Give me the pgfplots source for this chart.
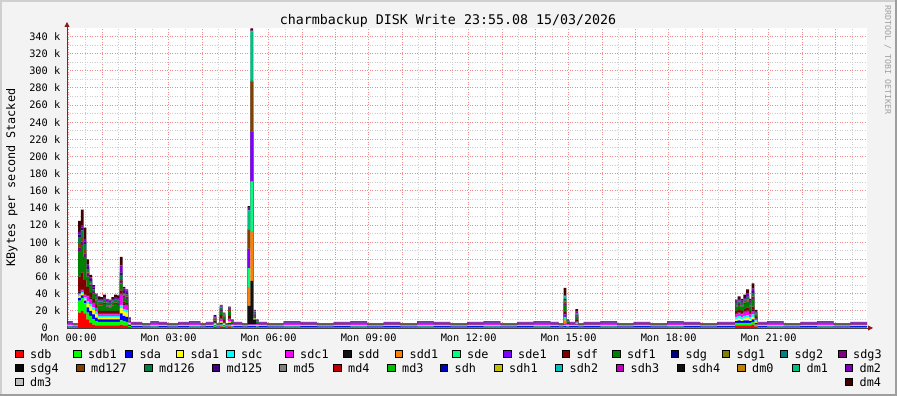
\documentclass[border=0pt]{standalone}
\usepackage{pgfplots}
\pgfplotsset{compat=1.18}
\usepackage{pgfplotstable}
\usepackage{fontspec}
\setmainfont{DejaVu Sans Mono}
\usetikzlibrary{arrows.meta}

\newcommand\axfont{\fontsize{10.3}{12}\selectfont}
\newcommand\legfont{\fontsize{11.8}{14}\selectfont}
\newcommand\titfont{\fontsize{13.3}{16}\selectfont}
\newcommand\wmfont{\fontsize{8.3}{10}\selectfont}

\definecolor{bgc}{HTML}{F3F3F3}
\definecolor{shadeA}{HTML}{CFCFCF}
\definecolor{shadeB}{HTML}{9E9E9E}
\definecolor{mgridc}{HTML}{F08C8C}
\definecolor{gridc}{HTML}{CDCDCD}
\definecolor{axisc}{HTML}{404040}
\definecolor{arrowc}{HTML}{8B1A1A}
\definecolor{wmc}{HTML}{A0A0A0}

\definecolor{csdb}{HTML}{FF0000}
\definecolor{csdb1}{HTML}{00FF00}
\definecolor{csda}{HTML}{0000FF}
\definecolor{csda1}{HTML}{FFFF00}
\definecolor{csdc}{HTML}{00FFFF}
\definecolor{csdc1}{HTML}{FF00FF}
\definecolor{csdd}{HTML}{111111}
\definecolor{csdd1}{HTML}{FF8000}
\definecolor{csde}{HTML}{00FF80}
\definecolor{csde1}{HTML}{8000FF}
\definecolor{csdf}{HTML}{800000}
\definecolor{csdf1}{HTML}{008000}
\definecolor{csdg}{HTML}{000080}
\definecolor{csdg1}{HTML}{808000}
\definecolor{csdg2}{HTML}{008080}
\definecolor{csdg3}{HTML}{800080}
\definecolor{csdg4}{HTML}{080808}
\definecolor{cmd127}{HTML}{804000}
\definecolor{cmd126}{HTML}{008040}
\definecolor{cmd125}{HTML}{400080}
\definecolor{cmd5}{HTML}{808080}
\definecolor{cmd4}{HTML}{C00000}
\definecolor{cmd3}{HTML}{00C000}
\definecolor{csdh}{HTML}{0000C0}
\definecolor{csdh1}{HTML}{C0C000}
\definecolor{csdh2}{HTML}{00C0C0}
\definecolor{csdh3}{HTML}{C000C0}
\definecolor{csdh4}{HTML}{101010}
\definecolor{cdm0}{HTML}{C08000}
\definecolor{cdm1}{HTML}{00C080}
\definecolor{cdm2}{HTML}{8000C0}
\definecolor{cdm3}{HTML}{C0C0C0}
\definecolor{cdm4}{HTML}{400000}

% KBytes/s (in thousands), time in hours
\pgfplotstableread{
t sdb sdb1 sda sda1 sdc sdc1 sdd sdd1 sde sde1 sdf sdf1 sdg3 md127 md126 md125 dm1 dm2 dm4
-0.050 0.8 0.7 1.0 0.4 0.7 0.8 0.2 0 0 0 0.2 0.3 0.2 0.2 0.3 0.4 0 1.2 0.6
0.117 0.6 0.5 0.8 0.3 0.5 0.6 0.2 0 0 0 0.1 0.2 0.2 0.1 0.2 0.3 0 0.8 0.4
0.283 18 14 3 2 2 2 1 0 0 0 18 30 4 4 8 3 0 3 13
0.367 20 15 3 2 2 2 1 0 0 0 20 32 4 5 8 3 0 3 18
0.450 17 12 3 2 2 2 1 0 0 0 17 27 4 4 7 3 0 3 13
0.533 10 8 6 4 3 6 1 0 0 0 10 12 3 2 4 2 0 3 6
0.617 6 8 6 5 3 6 1 0 0 0 6 8 2 1 3 2 0 2 3
0.700 4 6 6 5 3 5 1 0 0 0 4 6 2 1 2 2 0 2 1
0.783 3 5 4 4 3 4 1 0 0 0 3 5 1 1 2 1 0 2 1
0.867 3 4 3 2 2 2 1 0 0 0 3 6 1 1 3 1 0 2 3
0.950 3 4 3 2 2 2 1 0 0 0 3 6 1 1 3 1 0 2 2
1.033 3 4 3 2 2 2 1 0 0 0 3 8 1 1 3 1 0 2 3
1.117 3 4 3 2 2 2 1 0 0 0 3 5 1 1 3 1 0 2 1
1.200 3 4 3 2 2 2 1 0 0 0 3 4 1 1 3 1 0 2 1
1.283 3 4 3 2 2 2 1 0 0 0 3 6 1 1 3 1 0 2 2
1.367 3 4 3 2 2 2 1 0 0 0 3 8 1 1 3 1 0 2 3
1.450 3 4 3 2 2 2 1 0 0 0 3 7 1 1 3 1 0 2 3
1.533 4 5 8 6 4 12 1 0 0 0 4 8 3 2 5 3 0 8 10
1.617 3 5 6 5 3 5 1 0 0 0 3 5 2 1 2 2 0 3 2
1.700 3 4 6 5 3 5 1 0 0 0 2 5 2 1 2 2 0 3 1
1.783 1 1.5 1.5 1 1 1 0.5 0 0 0 0.5 0.5 0.5 0.5 0.5 0.5 0 1.5 0.5
1.867 0.7 0.6 0.9 0.4 0.6 0.7 0.2 0 0 0 0.2 0.3 0.2 0.2 0.2 0.4 0 1.0 0.4
2.200 0.6 0.5 0.8 0.3 0.5 0.6 0.2 0 0 0 0.1 0.2 0.2 0.1 0.2 0.3 0 0.8 0.4
2.450 0.8 0.7 1.0 0.4 0.7 0.8 0.2 0 0 0 0.2 0.3 0.2 0.2 0.3 0.4 0 1.2 0.6
2.700 0.7 0.6 0.9 0.4 0.6 0.7 0.2 0 0 0 0.2 0.3 0.2 0.2 0.2 0.4 0 1.0 0.4
2.950 0.6 0.5 0.8 0.3 0.5 0.6 0.2 0 0 0 0.1 0.2 0.2 0.1 0.2 0.3 0 0.8 0.4
3.283 0.7 0.6 0.9 0.4 0.6 0.7 0.2 0 0 0 0.2 0.3 0.2 0.2 0.2 0.4 0 1.0 0.4
3.617 0.8 0.7 1.0 0.4 0.7 0.8 0.2 0 0 0 0.2 0.3 0.2 0.2 0.3 0.4 0 1.2 0.6
3.950 0.6 0.5 0.8 0.3 0.5 0.6 0.2 0 0 0 0.1 0.2 0.2 0.1 0.2 0.3 0 0.8 0.4
4.117 0.7 0.6 0.9 0.4 0.6 0.7 0.2 0 0 0 0.2 0.3 0.2 0.2 0.2 0.4 0 1.0 0.4
4.350 1 1 1 1 1 1 0.5 0 0 0 2 2 0.5 0.5 1 0.5 0 1 1
4.433 0.6 0.5 0.8 0.3 0.5 0.6 0.2 0 0 0 0.1 0.2 0.2 0.1 0.2 0.3 0 0.8 0.4
4.533 2 2 2 1 1 2 1 0 0 0 4 5 1 1 2 1 0 1 1
4.617 1 1 1 1 1 1 0.5 0 0 0 3 4 0.5 0.5 1 0.5 0 1 1
4.700 0.6 0.5 0.8 0.3 0.5 0.6 0.2 0 0 0 0.1 0.2 0.2 0.1 0.2 0.3 0 0.8 0.4
4.783 2 2 2 1 1 2 1 0 0 0 3 5 1 1 1 1 0 1 1
4.867 0.8 0.7 1.0 0.5 0.7 0.8 0.3 0 0 0 1.0 1.5 0.3 0.3 0.5 0.4 0 1.0 0.2
4.950 0.7 0.6 0.9 0.4 0.6 0.7 0.2 0 0 0 0.2 0.3 0.2 0.2 0.2 0.4 0 1.0 0.4
5.200 0.6 0.5 0.8 0.3 0.5 0.6 0.2 0 0 0 0.1 0.2 0.2 0.1 0.2 0.3 0 0.8 0.4
5.367 0.7 0.6 0.9 0.4 0.6 0.7 22 22 22 22 0.2 0.3 0.2 22 0.2 0.4 22 4 1
5.450 0.7 0.6 0.9 0.4 0.6 0.7 51 58 58 58 0.2 0.3 0.2 58 0.2 0.4 58 0.8 2.5
5.533 0.7 0.6 0.9 0.4 0.6 0.7 6 1 1 1 0.5 2 0.5 1 1 0.5 1 1 0.6
5.617 0.8 0.7 1.0 0.5 0.7 0.8 0.3 0 0 0 1.0 1.5 0.3 0.3 0.5 0.4 0 1.0 0.2
5.700 0.7 0.6 0.9 0.4 0.6 0.7 0.2 0 0 0 0.2 0.3 0.2 0.2 0.2 0.4 0 1.0 0.4
5.950 0.6 0.5 0.8 0.3 0.5 0.6 0.2 0 0 0 0.1 0.2 0.2 0.1 0.2 0.3 0 0.8 0.4
6.450 0.8 0.7 1.0 0.4 0.7 0.8 0.2 0 0 0 0.2 0.3 0.2 0.2 0.3 0.4 0 1.2 0.6
6.950 0.7 0.6 0.9 0.4 0.6 0.7 0.2 0 0 0 0.2 0.3 0.2 0.2 0.2 0.4 0 1.0 0.4
7.450 0.6 0.5 0.8 0.3 0.5 0.6 0.2 0 0 0 0.1 0.2 0.2 0.1 0.2 0.3 0 0.8 0.4
7.950 0.7 0.6 0.9 0.4 0.6 0.7 0.2 0 0 0 0.2 0.3 0.2 0.2 0.2 0.4 0 1.0 0.4
8.450 0.8 0.7 1.0 0.4 0.7 0.8 0.2 0 0 0 0.2 0.3 0.2 0.2 0.3 0.4 0 1.2 0.6
8.950 0.6 0.5 0.8 0.3 0.5 0.6 0.2 0 0 0 0.1 0.2 0.2 0.1 0.2 0.3 0 0.8 0.4
9.450 0.7 0.6 0.9 0.4 0.6 0.7 0.2 0 0 0 0.2 0.3 0.2 0.2 0.2 0.4 0 1.0 0.4
9.950 0.6 0.5 0.8 0.3 0.5 0.6 0.2 0 0 0 0.1 0.2 0.2 0.1 0.2 0.3 0 0.8 0.4
10.450 0.8 0.7 1.0 0.4 0.7 0.8 0.2 0 0 0 0.2 0.3 0.2 0.2 0.3 0.4 0 1.2 0.6
10.950 0.7 0.6 0.9 0.4 0.6 0.7 0.2 0 0 0 0.2 0.3 0.2 0.2 0.2 0.4 0 1.0 0.4
11.450 0.6 0.5 0.8 0.3 0.5 0.6 0.2 0 0 0 0.1 0.2 0.2 0.1 0.2 0.3 0 0.8 0.4
11.950 0.7 0.6 0.9 0.4 0.6 0.7 0.2 0 0 0 0.2 0.3 0.2 0.2 0.2 0.4 0 1.0 0.4
12.450 0.8 0.7 1.0 0.4 0.7 0.8 0.2 0 0 0 0.2 0.3 0.2 0.2 0.3 0.4 0 1.2 0.6
12.950 0.6 0.5 0.8 0.3 0.5 0.6 0.2 0 0 0 0.1 0.2 0.2 0.1 0.2 0.3 0 0.8 0.4
13.450 0.7 0.6 0.9 0.4 0.6 0.7 0.2 0 0 0 0.2 0.3 0.2 0.2 0.2 0.4 0 1.0 0.4
13.950 0.8 0.7 1.0 0.4 0.7 0.8 0.2 0 0 0 0.2 0.3 0.2 0.2 0.3 0.4 0 1.2 0.6
14.450 0.7 0.6 0.9 0.4 0.6 0.7 0.2 0 0 0 0.2 0.3 0.2 0.2 0.2 0.4 0 1.0 0.4
14.700 0.6 0.5 0.8 0.3 0.5 0.6 0.2 0 0 0 0.1 0.2 0.2 0.1 0.2 0.3 0 0.8 0.4
14.850 0.7 0.6 0.9 0.4 0.6 0.7 1 4 4 3 3 8 1 3 2 1 3 1 9
14.933 0.8 0.7 1.0 0.5 0.7 0.8 0.3 0 0 0 1.0 1.5 0.3 0.3 0.5 0.4 0 1.0 0.2
15.017 0.7 0.6 0.9 0.4 0.6 0.7 0.2 0 0 0 0.2 0.3 0.2 0.2 0.2 0.4 0 1.0 0.4
15.200 0.7 0.6 0.9 0.4 0.6 0.7 0.5 1 1 1 2 4 0.5 1 1 0.5 1 1.6 3
15.283 0.6 0.5 0.8 0.3 0.5 0.6 0.2 0 0 0 0.1 0.2 0.2 0.1 0.2 0.3 0 0.8 0.4
15.450 0.7 0.6 0.9 0.4 0.6 0.7 0.2 0 0 0 0.2 0.3 0.2 0.2 0.2 0.4 0 1.0 0.4
15.950 0.8 0.7 1.0 0.4 0.7 0.8 0.2 0 0 0 0.2 0.3 0.2 0.2 0.3 0.4 0 1.2 0.6
16.450 0.6 0.5 0.8 0.3 0.5 0.6 0.2 0 0 0 0.1 0.2 0.2 0.1 0.2 0.3 0 0.8 0.4
16.950 0.7 0.6 0.9 0.4 0.6 0.7 0.2 0 0 0 0.2 0.3 0.2 0.2 0.2 0.4 0 1.0 0.4
17.450 0.6 0.5 0.8 0.3 0.5 0.6 0.2 0 0 0 0.1 0.2 0.2 0.1 0.2 0.3 0 0.8 0.4
17.950 0.8 0.7 1.0 0.4 0.7 0.8 0.2 0 0 0 0.2 0.3 0.2 0.2 0.3 0.4 0 1.2 0.6
18.450 0.7 0.6 0.9 0.4 0.6 0.7 0.2 0 0 0 0.2 0.3 0.2 0.2 0.2 0.4 0 1.0 0.4
18.950 0.6 0.5 0.8 0.3 0.5 0.6 0.2 0 0 0 0.1 0.2 0.2 0.1 0.2 0.3 0 0.8 0.4
19.450 0.7 0.6 0.9 0.4 0.6 0.7 0.2 0 0 0 0.2 0.3 0.2 0.2 0.2 0.4 0 1.0 0.4
19.990 3 3 2 2 3 3 1 0 0 0 3 5 1 1 2 1 0 2 1
20.070 3 3 3 2 3 3 1 0 0 0 3 6 1 1 2 1 0 2 3
20.160 3 3 2 2 3 3 1 0 0 0 3 5 1 1 2 1 0 2 2
20.240 3 3 3 2 3 4 1 0 0 0 3 6 1 1 2 1 0 2 4
20.320 3 3 3 3 3 4 1 0 0 0 4 7 1 1 3 1 0 3 5
20.410 3 3 2 2 3 3 1 0 0 0 3 5 1 1 2 1 0 2 2
20.490 4 3 3 3 3 4 1 0 0 0 4 9 2 1 4 2 0 3 6
20.570 2 2 2 1 2 2 0.5 0 0 0 1.5 3 0.5 0.5 1 0.5 0 1.5 1
20.660 0.7 0.6 0.9 0.4 0.6 0.7 0.2 0 0 0 0.2 0.3 0.2 0.2 0.2 0.4 0 1.0 0.4
20.950 0.8 0.7 1.0 0.4 0.7 0.8 0.2 0 0 0 0.2 0.3 0.2 0.2 0.3 0.4 0 1.2 0.6
21.450 0.6 0.5 0.8 0.3 0.5 0.6 0.2 0 0 0 0.1 0.2 0.2 0.1 0.2 0.3 0 0.8 0.4
21.950 0.7 0.6 0.9 0.4 0.6 0.7 0.2 0 0 0 0.2 0.3 0.2 0.2 0.2 0.4 0 1.0 0.4
22.450 0.8 0.7 1.0 0.4 0.7 0.8 0.2 0 0 0 0.2 0.3 0.2 0.2 0.3 0.4 0 1.2 0.6
22.950 0.6 0.5 0.8 0.3 0.5 0.6 0.2 0 0 0 0.1 0.2 0.2 0.1 0.2 0.3 0 0.8 0.4
23.450 0.7 0.6 0.9 0.4 0.6 0.7 0.2 0 0 0 0.2 0.3 0.2 0.2 0.2 0.4 0 1.0 0.4
23.950 0.7 0.6 0.9 0.4 0.6 0.7 0.2 0 0 0 0.2 0.3 0.2 0.2 0.2 0.4 0 1.0 0.4
}\disk

\begin{document}
\begin{tikzpicture}[x=1pt,y=1pt]
\fill[shadeB] (0,0) rectangle (897,396);
\fill[shadeA] (0,2) rectangle (895,396);
\fill[bgc] (2,2) rectangle (895,394);
\useasboundingbox (0,0) rectangle (897,396);

\begin{axis}[
  at={(67pt,68pt)}, anchor=south west,
  scale only axis, width=800pt, height=300pt,
  xmin=-0.05, xmax=23.95, ymin=0, ymax=350,
  axis x line=bottom, axis y line=left,
  axis line style={draw=axisc, line width=0.8pt, -{Triangle[length=5pt,width=5pt,color=arrowc]}, shorten >=-6pt},
  axis background/.style={fill=white},
  stack plots=y,
  xtick={0,...,23},
  xticklabels={Mon 00:00,,,Mon 03:00,,,Mon 06:00,,,Mon 09:00,,,Mon 12:00,,,Mon 15:00,,,Mon 18:00,,,Mon 21:00,,},
  minor xtick={0.5,1.5,...,23.5},
  ytick={0,20,...,340},
  yticklabels={0\hphantom{0k},20 k,40 k,60 k,80 k,100 k,120 k,140 k,160 k,180 k,200 k,220 k,240 k,260 k,280 k,300 k,320 k,340 k},
  minor ytick={10,30,...,330},
  grid=both,
  major grid style={draw=mgridc, dash pattern=on 1pt off 1.5pt, line width=1pt},
  minor grid style={draw=gridc, dash pattern=on 1pt off 1.5pt, line width=1pt},
  major tick length=0pt, minor tick length=0pt,
  xticklabel style={font=\axfont, anchor=north, inner sep=0pt, yshift=-6pt},
  yticklabel style={font=\axfont, anchor=east, inner sep=0pt, xshift=-6.5pt},
  every axis plot/.append style={const plot, draw=none},
]
\addplot[fill=csdb] table[x=t,y=sdb]{\disk} \closedcycle;
\addplot[fill=csdb1] table[x=t,y=sdb1]{\disk} \closedcycle;
\addplot[fill=csda] table[x=t,y=sda]{\disk} \closedcycle;
\addplot[fill=csda1] table[x=t,y=sda1]{\disk} \closedcycle;
\addplot[fill=csdc] table[x=t,y=sdc]{\disk} \closedcycle;
\addplot[fill=csdc1] table[x=t,y=sdc1]{\disk} \closedcycle;
\addplot[fill=csdd] table[x=t,y=sdd]{\disk} \closedcycle;
\addplot[fill=csdd1] table[x=t,y=sdd1]{\disk} \closedcycle;
\addplot[fill=csde] table[x=t,y=sde]{\disk} \closedcycle;
\addplot[fill=csde1] table[x=t,y=sde1]{\disk} \closedcycle;
\addplot[fill=csdf] table[x=t,y=sdf]{\disk} \closedcycle;
\addplot[fill=csdf1] table[x=t,y=sdf1]{\disk} \closedcycle;
\addplot[fill=csdg3] table[x=t,y=sdg3]{\disk} \closedcycle;
\addplot[fill=cmd127] table[x=t,y=md127]{\disk} \closedcycle;
\addplot[fill=cmd126] table[x=t,y=md126]{\disk} \closedcycle;
\addplot[fill=cmd125] table[x=t,y=md125]{\disk} \closedcycle;
\addplot[fill=cdm1] table[x=t,y=dm1]{\disk} \closedcycle;
\addplot[fill=cdm2] table[x=t,y=dm2]{\disk} \closedcycle;
\addplot[fill=cdm4] table[x=t,y=dm4]{\disk} \closedcycle;
\end{axis}

\node[font=\titfont, anchor=base] at (448,371) {charmbackup DISK Write 23:55.08 15/03/2026};
\node[font=\legfont, rotate=90, anchor=base] at (15,218.5) {KBytes per second Stacked};
\node[font=\wmfont, text=wmc, rotate=-90, anchor=base] at (885,336) {RRDTOOL / TOBI OETIKER};

\foreach \nm/\cc/\xx/\yy in {
 sdb/csdb/19.5/42, sdb1/csdb1/77.5/42, sda/csda/129/42, sda1/csda1/180/42,
 sdc/csdc/230.5/42, sdc1/csdc1/289.5/42, sdd/csdd/347.5/42, sdd1/csdd1/399/42,
 sde/csde/456.5/42, sde1/csde1/507.5/42, sdf/csdf/566/42, sdf1/csdf1/616.5/42,
 sdg/csdg/675/42, sdg1/csdg1/726/42, sdg2/csdg2/784/42, sdg3/csdg3/842.5/42,
 sdg4/csdg4/19.5/28, md127/cmd127/80.5/28, md126/cmd126/148.5/28, md125/cmd125/216/28,
 md5/cmd5/283/28, md4/cmd4/337.5/28, md3/cmd3/391.5/28, sdh/csdh/444/28,
 sdh1/csdh1/498.5/28, sdh2/csdh2/559/28, sdh3/csdh3/620/28, sdh4/csdh4/681/28,
 dm0/cdm0/741.5/28, dm1/cdm1/796/28, dm2/cdm2/849/28,
 dm3/cdm3/19.5/14, dm4/cdm4/849/14}{
  \filldraw[fill=\cc, draw=black, line width=0.8pt] (\xx-3.8,\yy-3.8) rectangle (\xx+3.8,\yy+3.8);
  \node[font=\legfont, anchor=base west, inner sep=0pt] at (\xx+10.5,\yy-4.2) {\nm};
}
\end{tikzpicture}
\end{document}
